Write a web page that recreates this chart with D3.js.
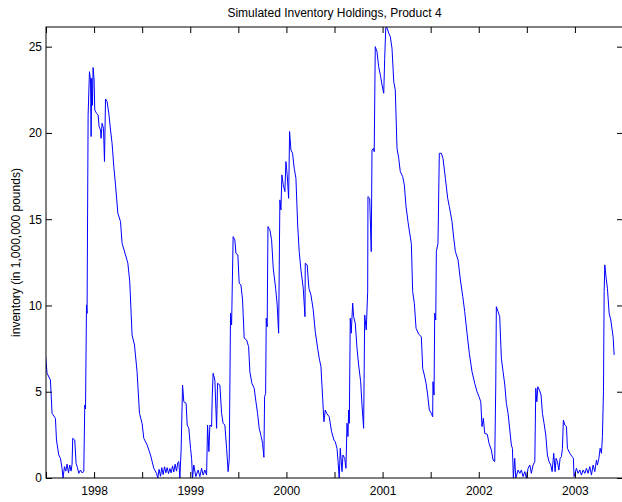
<!DOCTYPE html>
<html>
<head>
<meta charset="utf-8">
<script src="https://cdn.jsdelivr.net/npm/d3@7"></script>
<style>
  html, body { margin: 0; padding: 0; background: #fff; }
  svg { display: block; font-family: "Liberation Sans", Arial, Helvetica, sans-serif; }
</style>
</head>
<body>
<svg id="chart" width="622" height="502"></svg>
<script>
// ---- data (decimal year, inventory in 1,000,000 pounds) ----
const title = "Simulated Inventory Holdings, Product 4";
const yLabel = "inventory (in 1,000,000 pounds)";
const yTicks = [0, 5, 10, 15, 20, 25];
const xTicks = [1997.5, 1998, 1998.5, 1999, 1999.5, 2000, 2000.5, 2001, 2001.5, 2002, 2002.5, 2003, 2003.5];
const dates = [
  1997.497, 1997.511, 1997.546, 1997.563, 1997.598, 1997.609, 1997.633, 1997.650, 1997.667, 1997.677,
  1997.692, 1997.706, 1997.719, 1997.734, 1997.747, 1997.761, 1997.771, 1997.778, 1997.799, 1997.813,
  1997.827, 1997.841, 1997.858, 1997.875, 1997.893, 1997.903, 1997.911, 1997.921, 1997.927, 1997.938,
  1997.952, 1997.963, 1997.969, 1997.976, 1997.983, 1997.990, 1998.000, 1998.007, 1998.025, 1998.042,
  1998.052, 1998.067, 1998.073, 1998.083, 1998.098, 1998.108, 1998.119, 1998.135, 1998.153, 1998.171,
  1998.187, 1998.205, 1998.223, 1998.247, 1998.275, 1998.291, 1998.327, 1998.351, 1998.371, 1998.395,
  1998.420, 1998.447, 1998.472, 1998.499, 1998.517, 1998.552, 1998.587, 1998.621, 1998.649, 1998.663,
  1998.676, 1998.691, 1998.704, 1998.718, 1998.733, 1998.746, 1998.760, 1998.774, 1998.788, 1998.801,
  1998.816, 1998.829, 1998.843, 1998.857, 1998.871, 1998.881, 1998.892, 1998.905, 1998.920, 1998.933,
  1998.957, 1998.968, 1998.985, 1999.003, 1999.014, 1999.024, 1999.037, 1999.058, 1999.082, 1999.100,
  1999.118, 1999.134, 1999.152, 1999.170, 1999.180, 1999.194, 1999.204, 1999.222, 1999.228, 1999.238,
  1999.256, 1999.274, 1999.284, 1999.308, 1999.326, 1999.342, 1999.360, 1999.378, 1999.394, 1999.405,
  1999.419, 1999.430, 1999.446, 1999.464, 1999.475, 1999.495, 1999.509, 1999.527, 1999.544, 1999.561,
  1999.586, 1999.607, 1999.620, 1999.641, 1999.665, 1999.683, 1999.700, 1999.717, 1999.738, 1999.752,
  1999.766, 1999.773, 1999.784, 1999.790, 1999.800, 1999.808, 1999.828, 1999.846, 1999.863, 1999.888,
  1999.904, 1999.919, 1999.932, 1999.943, 1999.953, 1999.967, 1999.984, 1999.995, 2000.008, 2000.023,
  2000.033, 2000.047, 2000.064, 2000.081, 2000.099, 2000.117, 2000.133, 2000.151, 2000.175, 2000.193,
  2000.196, 2000.216, 2000.234, 2000.255, 2000.279, 2000.300, 2000.325, 2000.341, 2000.359, 2000.377,
  2000.390, 2000.404, 2000.418, 2000.445, 2000.470, 2000.494, 2000.508, 2000.526, 2000.536, 2000.549,
  2000.560, 2000.578, 2000.588, 2000.606, 2000.619, 2000.630, 2000.640, 2000.647, 2000.654, 2000.664,
  2000.674, 2000.689, 2000.699, 2000.716, 2000.734, 2000.751, 2000.772, 2000.786, 2000.803, 2000.814,
  2000.830, 2000.845, 2000.848, 2000.866, 2000.882, 2000.890, 2000.907, 2000.913, 2000.924, 2000.942,
  2000.959, 2000.980, 2000.994, 2001.012, 2001.022, 2001.033, 2001.046, 2001.064, 2001.080, 2001.098,
  2001.116, 2001.132, 2001.150, 2001.168, 2001.184, 2001.209, 2001.226, 2001.244, 2001.264, 2001.282,
  2001.299, 2001.313, 2001.330, 2001.348, 2001.376, 2001.403, 2001.417, 2001.434, 2001.452, 2001.469,
  2001.486, 2001.507, 2001.521, 2001.524, 2001.535, 2001.542, 2001.553, 2001.559, 2001.576, 2001.590,
  2001.611, 2001.628, 2001.653, 2001.677, 2001.694, 2001.722, 2001.740, 2001.757, 2001.785, 2001.809,
  2001.834, 2001.854, 2001.878, 2001.902, 2001.930, 2001.958, 2001.982, 2002.003, 2002.021, 2002.034,
  2002.048, 2002.062, 2002.089, 2002.107, 2002.131, 2002.149, 2002.166, 2002.177, 2002.183, 2002.201,
  2002.218, 2002.235, 2002.253, 2002.271, 2002.287, 2002.305, 2002.323, 2002.339, 2002.350, 2002.360,
  2002.374, 2002.385, 2002.409, 2002.427, 2002.443, 2002.461, 2002.479, 2002.495, 2002.513, 2002.531,
  2002.547, 2002.565, 2002.583, 2002.593, 2002.604, 2002.614, 2002.631, 2002.648, 2002.662, 2002.679,
  2002.697, 2002.714, 2002.731, 2002.749, 2002.763, 2002.780, 2002.794, 2002.804, 2002.818, 2002.833,
  2002.846, 2002.860, 2002.870, 2002.880, 2002.895, 2002.912, 2002.922, 2002.947, 2002.971, 2002.984,
  2002.991, 2003.016, 2003.033, 2003.051, 2003.068, 2003.085, 2003.103, 2003.120, 2003.137, 2003.155,
  2003.172, 2003.189, 2003.207, 2003.224, 2003.234, 2003.249, 2003.262, 2003.276, 2003.286, 2003.297,
  2003.304, 2003.311, 2003.325, 2003.338, 2003.356, 2003.373, 2003.387, 2003.397, 2003.408
];
const inventory = [
  7.00, 6.07, 5.68, 3.75, 3.46, 2.20, 1.33, 1.14, 0.56, 0.00,
  0.66, 0.40, 0.80, 0.30, 0.75, 0.40, 0.80, 2.30, 2.20, 0.85,
  0.60, 0.27, 0.46, 0.30, 0.37, 4.23, 4.00, 10.03, 9.54, 21.04,
  23.55, 23.07, 19.79, 23.17, 21.60, 23.79, 23.07, 21.33, 21.14, 21.04,
  20.37, 20.17, 19.69, 20.56, 20.27, 18.34, 21.97, 21.82, 21.14, 20.17,
  19.40, 18.05, 16.99, 15.35, 14.86, 13.60, 12.93, 12.45, 11.38, 8.29,
  7.71, 6.16, 3.75, 3.17, 2.30, 1.91, 1.33, 0.56, 0.27, 0.00,
  0.50, 0.10, 0.60, 0.20, 0.65, 0.30, 0.60, 0.25, 0.55, 0.30,
  0.70, 0.35, 0.80, 0.40, 0.90, 0.95, 0.00, 1.62, 5.39, 4.42,
  4.33, 3.07, 2.88, 1.72, 1.14, 0.00, 0.75, 0.08, 0.46, 0.08,
  0.56, 0.17, 0.46, 0.17, 3.07, 1.53, 3.07, 2.98, 4.62, 6.07,
  5.68, 2.88, 5.49, 5.39, 3.75, 3.17, 3.07, 1.72, 0.37, 1.04,
  9.55, 8.87, 13.99, 13.80, 13.02, 12.93, 11.29, 11.19, 10.32, 8.10,
  8.00, 7.61, 6.16, 5.49, 5.20, 4.42, 3.75, 2.88, 2.40, 2.01,
  1.20, 4.71, 4.91, 9.26, 8.77, 14.57, 14.38, 13.80, 12.16, 11.00,
  10.03, 8.39, 16.12, 15.54, 17.57, 16.99, 16.60, 18.34, 17.57, 16.21,
  20.08, 19.01, 18.82, 17.95, 17.37, 14.67, 13.12, 12.06, 11.00, 9.35,
  12.45, 12.35, 11.00, 10.61, 9.74, 8.48, 7.52, 6.94, 6.45, 4.62,
  3.26, 3.94, 3.75, 3.55, 2.68, 2.20, 2.10, 1.72, 1.04, 0.00,
  1.72, 0.37, 1.33, 1.14, 0.56, 3.17, 2.40, 3.94, 3.17, 9.26,
  8.39, 10.13, 9.35, 8.97, 7.52, 6.55, 5.58, 4.23, 2.88, 9.45,
  8.58, 10.80, 16.31, 16.21, 13.12, 19.01, 19.11, 18.91, 25.00, 24.71,
  23.84, 23.26, 22.78, 22.30, 24.33, 26.10, 26.10, 25.78, 25.58, 24.91,
  22.97, 22.49, 19.11, 18.53, 17.76, 17.47, 16.99, 15.73, 14.86, 14.19,
  13.60, 10.80, 10.13, 8.68, 8.33, 8.19, 6.36, 5.97, 5.49, 4.81,
  3.94, 3.75, 3.55, 5.58, 4.81, 9.55, 9.16, 13.12, 13.60, 18.82,
  18.82, 18.53, 17.37, 16.21, 15.73, 14.86, 13.90, 13.12, 12.64, 11.48,
  10.51, 9.64, 8.39, 7.23, 6.16, 5.49, 5.00, 4.71, 4.42, 2.98,
  3.46, 2.59, 2.53, 2.01, 1.62, 1.04, 0.95, 5.39, 9.93, 9.64,
  9.35, 6.94, 6.16, 5.39, 4.33, 3.75, 2.78, 1.91, 1.72, 0.00,
  1.14, 0.00, 0.46, 0.27, 0.46, 0.08, 0.37, 0.00, 0.56, 0.75,
  0.27, 0.75, 0.95, 5.20, 4.42, 5.29, 5.10, 4.81, 3.75, 3.17,
  2.49, 1.33, 0.95, 0.75, 0.37, 1.43, 0.37, 1.14, 0.95, 0.46,
  1.14, 1.24, 1.72, 3.36, 3.07, 2.98, 1.72, 1.43, 1.24, 1.14,
  0.08, 0.56, 0.27, 0.46, 0.17, 0.46, 0.27, 0.56, 0.27, 0.66,
  0.17, 0.75, 0.37, 1.04, 0.75, 1.14, 1.72, 1.43, 2.40, 5.00,
  10.80, 12.35, 11.58, 11.00, 9.55, 9.16, 8.58, 8.19, 7.13
];

// ---- layout ----
const svg = d3.select("#chart");
const L = 46, R = 623, T = 27, B = 478;
const x = d3.scaleLinear().domain([1997.5, 2003.5]).range([L, R]);
const y = d3.scaleLinear().domain([0, 26.14]).range([B, T]);

const series = dates.map((d, i) => ({ t: d, v: inventory[i] }));

svg.append("defs").append("clipPath").attr("id", "clip")
  .append("rect").attr("x", L).attr("y", T).attr("width", R - L).attr("height", B - T);

svg.append("path")
  .datum(series)
  .attr("clip-path", "url(#clip)")
  .attr("fill", "none")
  .attr("stroke", "#0000ff")
  .attr("stroke-width", 1)
  .attr("stroke-linejoin", "round")
  .attr("d", d3.line().x(d => x(d.t)).y(d => y(d.v)));

const fmtX = d => Number.isInteger(d) ? String(d) : "";
const tickLen = 6;

function styleAxis(g) {
  g.selectAll(".domain").remove();
  g.selectAll(".tick line").attr("stroke", "#000").attr("stroke-width", 1);
  g.selectAll(".tick text").attr("fill", "#000").style("font-size", "12px")
    .style("font-family", '"Liberation Sans", Arial, Helvetica, sans-serif');
}

svg.append("g").attr("transform", `translate(0,${B})`)
  .call(d3.axisBottom(x).tickValues(xTicks).tickFormat(fmtX).tickSize(-tickLen).tickPadding(8))
  .call(styleAxis);
svg.append("g").attr("transform", `translate(0,${T})`)
  .call(d3.axisTop(x).tickValues(xTicks).tickFormat("").tickSize(-tickLen))
  .call(styleAxis);
svg.append("g").attr("transform", `translate(${L},0)`)
  .call(d3.axisLeft(y).tickValues(yTicks).tickFormat(d3.format("d")).tickSize(-tickLen).tickPadding(4))
  .call(styleAxis);
svg.append("g").attr("transform", `translate(${R},0)`)
  .call(d3.axisRight(y).tickValues(yTicks).tickFormat("").tickSize(-tickLen))
  .call(styleAxis);

// frame
svg.append("rect")
  .attr("x", L).attr("y", T).attr("width", R - L).attr("height", B - T)
  .attr("fill", "none").attr("stroke", "#000").attr("stroke-width", 1);

svg.append("text")
  .attr("x", (L + R) / 2).attr("y", 17)
  .attr("text-anchor", "middle")
  .style("font-size", "12px")
  .text(title);

svg.append("text")
  .attr("transform", `translate(20,${(T + B) / 2}) rotate(-90)`)
  .attr("text-anchor", "middle")
  .style("font-size", "12px")
  .text(yLabel);
</script>
</body>
</html>
